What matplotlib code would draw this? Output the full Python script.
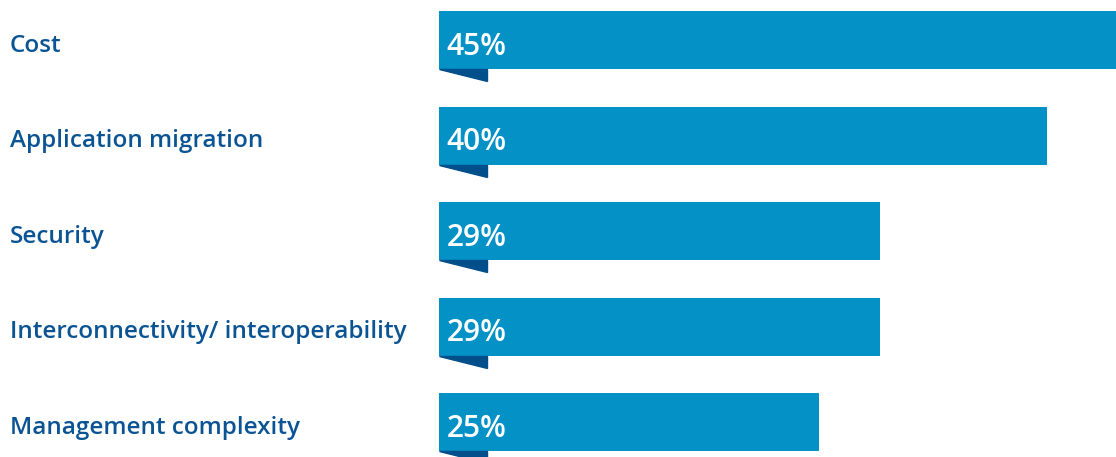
import matplotlib
matplotlib.use("Agg")
import matplotlib.pyplot as plt
from matplotlib.patches import Polygon
from matplotlib.transforms import blended_transform_factory

# data
categories = ["Cost", "Application migration", "Security",
              "Interconnectivity/ interoperability", "Management complexity"]
values = [45, 40, 29, 29, 25]
value_labels = ["45%", "40%", "29%", "29%", "25%"]

bar_color = "#0391c6"
fold_color = "#004e8a"
text_color = "#0a5494"

fig = plt.figure(figsize=(11.16, 4.57), dpi=100)
ax = fig.add_axes([439 / 1116, 0, 677 / 1116, 1])
ax.set_axis_off()

bar_h = 0.607
ypos = list(range(len(categories)))
ax.barh(ypos, values, height=bar_h, color=bar_color, align="center")
ax.set_xlim(0, 44.54)
ax.set_ylim(4.366, -0.419)

# small dark fold under the left end of each bar
fold_w = 3.16
fold_h = 0.126
lab_tr = blended_transform_factory(fig.transFigure, ax.transData)
for y, cat, lab in zip(ypos, categories, value_labels):
    bottom = y + bar_h / 2
    ax.add_patch(Polygon([(0, bottom), (fold_w, bottom), (fold_w, bottom + fold_h)],
                         closed=True, color=fold_color, clip_on=False))
    ax.text(0.5, y + 0.07, lab, color="white", fontsize=21.5, fontweight="semibold",
            family="Open Sans", va="center", ha="left")
    ax.text(10 / 1116, y + 0.06, cat, color=text_color, fontsize=17.5,
            fontweight="semibold", family="Open Sans", va="center", ha="left",
            transform=lab_tr)

fig.savefig("out.png", dpi=100)
